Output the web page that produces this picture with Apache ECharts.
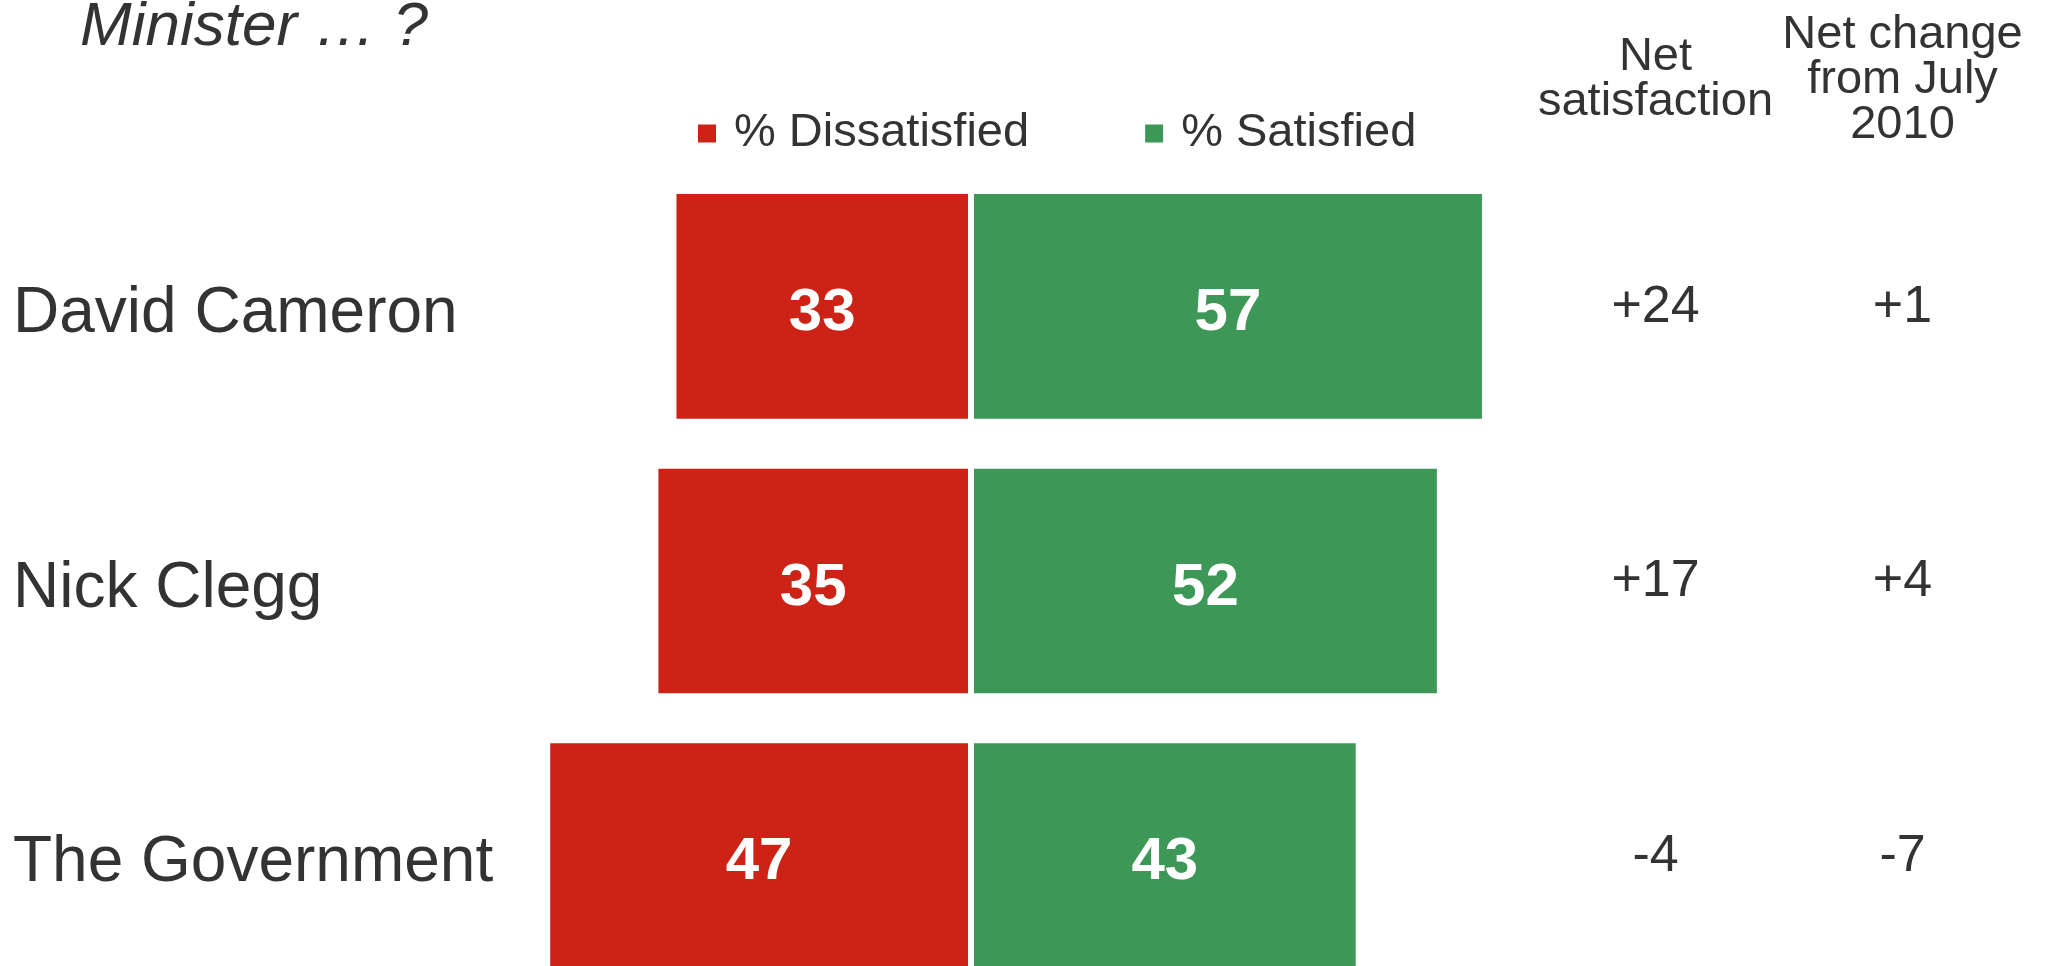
<!DOCTYPE html>
<html>
<head>
<meta charset="utf-8">
<style>
  html, body { margin: 0; padding: 0; background: #fff; overflow: hidden; }
  #chart { width: 2051px; height: 994px; }
</style>
<script src="https://cdn.jsdelivr.net/npm/echarts@6/dist/echarts.min.js"></script>
</head>
<body>
<div id="chart"></div>
<script>
// data
const people = ["David Cameron", "Nick Clegg", "The Government"];
const dissatisfied = [33, 35, 47];
const satisfied = [57, 52, 43];
const netSatisfaction = [24, 17, -4];
const netChange = [1, 4, -7];
const columns = ["Net\nsatisfaction", "Net change\nfrom July\n2010"];

const FONT = "Liberation Sans, Arial, sans-serif";
const TXT = "#333333";
const RED = "#cc2316";
const GREEN = "#3d9857";

function signed(v) {
  return v > 0 ? "+" + v : String(v);
}

// points for the two text columns on the right
const tablePoints = [];
people.forEach(function (p, i) {
  tablePoints.push([0, i, netSatisfaction[i]]);
  tablePoints.push([1, i, netChange[i]]);
});

const chart = echarts.init(document.getElementById("chart"));

chart.setOption({
  animation: false,
  backgroundColor: "#fff",
  textStyle: { fontFamily: FONT },
  title: {
    text: "Minister … ?",
    left: 75,
    top: -9,
    textStyle: {
      fontFamily: FONT,
      fontSize: 62,
      fontStyle: "italic",
      fontWeight: "normal",
      color: TXT,
      lineHeight: 64
    }
  },
  legend: {
    left: 691,
    top: 105,
    itemWidth: 20,
    itemHeight: 20,
    itemGap: 114,
    icon: "rect",
    data: ["% Dissatisfied", "% Satisfied"],
    textStyle: {
      fontSize: 47,
      color: TXT,
      lineHeight: 47,
      padding: [0, 0, 0, 12]
    }
  },
  grid: [
    { left: 430, width: 1082, top: 169, bottom: 1 },
    { left: 1532, width: 494, top: 169, bottom: 1 }
  ],
  xAxis: [
    {
      gridIndex: 0,
      type: "value",
      min: -60,
      max: 60,
      show: false
    },
    {
      gridIndex: 1,
      type: "category",
      data: columns,
      position: "top",
      axisLine: { show: false },
      axisTick: { show: false },
      axisLabel: {
        interval: 0,
        margin: 89,
        fontSize: 47,
        lineHeight: 45,
        color: TXT,
        verticalAlign: "middle"
      }
    }
  ],
  yAxis: [
    {
      gridIndex: 0,
      type: "category",
      data: people,
      inverse: true,
      axisLine: { show: false },
      axisTick: { show: false },
      axisLabel: {
        align: "left",
        verticalAlign: "top",
        lineHeight: 16,
        margin: 417,
        fontSize: 64,
        color: TXT
      }
    },
    {
      gridIndex: 1,
      type: "category",
      data: people,
      inverse: true,
      show: false
    }
  ],
  series: [
    {
      name: "% Dissatisfied",
      type: "bar",
      stack: "total",
      xAxisIndex: 0,
      yAxisIndex: 0,
      barWidth: "84%",
      data: dissatisfied.map(function (v) { return -v; }),
      itemStyle: { color: RED, borderColor: "#fff", borderWidth: 3 },
      label: {
        show: true,
        position: "inside",
        offset: [0, 7],
        formatter: function (p) { return Math.abs(p.value); },
        color: "#fff",
        fontWeight: "bold",
        fontSize: 60
      }
    },
    {
      name: "% Satisfied",
      type: "bar",
      stack: "total",
      xAxisIndex: 0,
      yAxisIndex: 0,
      barWidth: "84%",
      data: satisfied,
      itemStyle: { color: GREEN, borderColor: "#fff", borderWidth: 3 },
      label: {
        show: true,
        position: "inside",
        offset: [0, 7],
        color: "#fff",
        fontWeight: "bold",
        fontSize: 60
      }
    },
    {
      name: "table",
      type: "scatter",
      xAxisIndex: 1,
      yAxisIndex: 1,
      symbolSize: 1,
      silent: true,
      itemStyle: { color: "#ffffff", opacity: 1 },
      data: tablePoints,
      label: {
        show: true,
        position: "inside",
        offset: [0, 1],
        formatter: function (p) { return signed(p.value[2]); },
        fontSize: 52,
        color: TXT
      }
    }
  ]
});
</script>
</body>
</html>
